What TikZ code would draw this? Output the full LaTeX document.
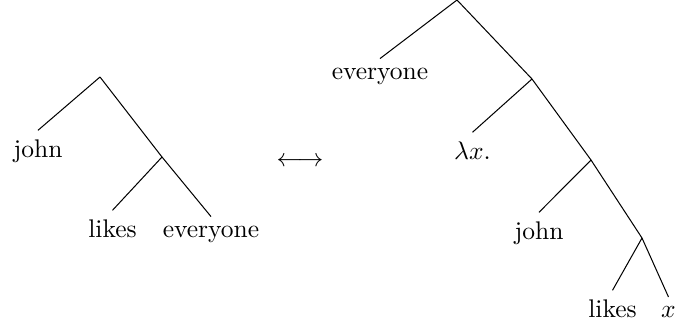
\documentclass[tikz,border=0pt]{standalone}
\usepackage{amsmath,amssymb}
\usepackage{tikz}
\tikzset{leaf/.style={anchor=base}}

\begin{document}
\begin{tikzpicture}[x=0.392pt,y=-0.392pt]
\useasboundingbox (0,0) rectangle (678,329);
% left tree
\coordinate (lroot) at (100,77);
\coordinate (lvp) at (162,157);
\node[leaf] (ljohn) at (38,157) {john};
\node[leaf] (llikes) at (112.5,237) {likes};
\node[leaf] (leveryone) at (211,237) {everyone};
\draw (lroot)--(ljohn.north); \draw (lroot)--(lvp);
\draw (lvp)--(llikes.north); \draw (lvp)--(leveryone.north);
% arrow
\node (equiv) at (300,162) {$\longleftrightarrow$};
% right tree
\coordinate (rroot) at (457,0);
\coordinate (rlam) at (532,79);
\coordinate (rs) at (591,160);
\coordinate (rvp) at (642,238);
\node[leaf] (reveryone) at (380,79) {everyone};
\node[leaf] (rlambda) at (472.5,159) {$\lambda x.$};
\node[leaf] (rjohn) at (539,239) {john};
\node[leaf] (rlikes) at (612.5,317) {likes};
\node[leaf] (rx) at (668.5,317) {$x$};
\draw (rroot)--(reveryone.north); \draw (rroot)--(rlam);
\draw (rlam)--(rlambda.north); \draw (rlam)--(rs);
\draw (rs)--(rjohn.north); \draw (rs)--(rvp);
\draw (rvp)--(rlikes.north); \draw (rvp)--(rx.north);
\end{tikzpicture}
\end{document}
